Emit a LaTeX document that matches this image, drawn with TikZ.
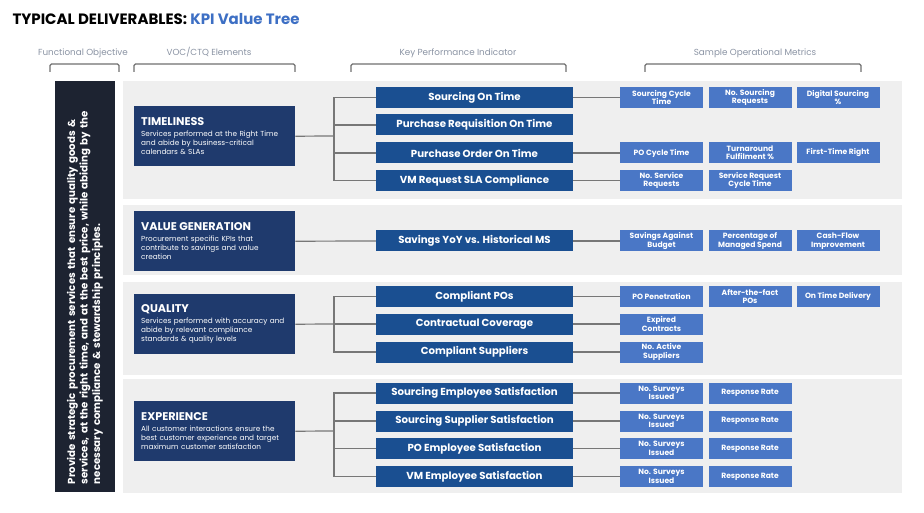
\documentclass[tikz,border=0pt]{standalone}
\usepackage{fontspec}
\setmainfont{Poppins}
\definecolor{titleblue}{HTML}{3D6FC4}
\definecolor{hdrgray}{HTML}{8A93A3}
\definecolor{brkgray}{HTML}{6E6E6E}
\definecolor{objdark}{HTML}{1D2331}
\definecolor{bandgray}{HTML}{EFEFEF}
\definecolor{vocnavy}{HTML}{1F3A6D}
\definecolor{kpiblue}{HTML}{1A4F91}
\definecolor{metblue}{HTML}{4A77C6}
\definecolor{linkgray}{HTML}{777777}
\begin{document}
\begin{tikzpicture}[x=1pt,y=-1pt,
  hdr/.style={anchor=base, text=hdrgray, font=\fontsize{8.8}{10}\selectfont},
  brk/.style={draw=brkgray, line width=1.1pt, rounded corners=1.5pt},
  band/.style={fill=bandgray},
  voc/.style={fill=vocnavy, text=white, anchor=north west, minimum width=161pt, minimum height=60pt, inner sep=7pt, text width=147pt, align=left, font=\fontsize{7.3}{9.2}\selectfont},
  kpi/.style={fill=kpiblue, text=white, minimum width=197pt, minimum height=21pt, inner sep=0pt, font=\fontsize{10.2}{11}\selectfont\bfseries},
  met/.style={fill=metblue, text=white, minimum width=83pt, minimum height=21pt, inner sep=0pt, align=center, font=\fontsize{7.6}{8.4}\selectfont\bfseries},
  link/.style={draw=linkgray, line width=1.2pt}]
\useasboundingbox (0,0) rectangle (924,513);
\node[anchor=base west, font=\fontsize{15}{18}\selectfont\bfseries] (title) at (9,25) {TYPICAL DELIVERABLES: \textcolor{titleblue}{KPI Value Tree}};
\node[hdr] (hfo) at (83,56) {Functional Objective}; \node[hdr] (hvoc) at (209,56) {VOC/CTQ Elements};
\node[hdr] (hkpi) at (458,56) {Key Performance Indicator}; \node[hdr] (hmet) at (755,56) {Sample Operational Metrics};
\draw[brk] (50,72) -- (50,64) -- (119,64) -- (119,72);
\draw[brk] (134,72) -- (134,64) -- (295,64) -- (295,72);
\draw[brk] (351,72) -- (351,64) -- (566,64) -- (566,72);
\draw[brk] (645,72) -- (645,64) -- (861,64) -- (861,72);
\fill[band] (123,81) rectangle (902,199);
\fill[band] (123,205) rectangle (902,275);
\fill[band] (123,282) rectangle (902,375);
\fill[band] (123,379) rectangle (902,493);
\node[fill=objdark, text=white, rotate=90, minimum width=411pt, minimum height=60pt, inner sep=8pt, text width=395pt, align=left, font=\fontsize{10.2}{12.5}\selectfont\bfseries] (obj) at (85,286.5) {Provide strategic procurement services that ensure quality goods \&\\services, at the right time, and at the best price, while abiding by the\\necessary compliance \& stewardship principles.};
\node[voc] (tim) at (134,106) {{\fontsize{11.2}{13}\selectfont\bfseries TIMELINESS}\\[1pt]Services performed at the Right Time\\and abide by business-critical\\calendars \& SLAs};
\node[voc] (val) at (134,211) {{\fontsize{11.2}{13}\selectfont\bfseries VALUE GENERATION}\\[1pt]Procurement specific KPIs that\\contribute to savings and value\\creation};
\node[voc] (qua) at (134,294) {{\fontsize{11.2}{13}\selectfont\bfseries QUALITY}\\[1pt]Services performed with accuracy and\\abide by relevant compliance\\standards \& quality levels};
\node[voc] (exp) at (134,401) {{\fontsize{11.2}{13}\selectfont\bfseries EXPERIENCE}\\[1pt]All customer interactions ensure the\\best customer experience and target\\maximum customer satisfaction};
\coordinate (tsp) at (334,136); \coordinate (qsp) at (334,324); \coordinate (esp) at (334,431);
\node[kpi] (tk1) at (474.5,97.5) {Sourcing On Time};
\node[kpi] (tk2) at (474.5,125) {Purchase Requisition On Time};
\node[kpi] (tk3) at (474.5,153) {Purchase Order On Time};
\node[kpi] (tk4) at (474.5,180.5) {VM Request SLA Compliance};
\node[kpi] (vk1) at (474.5,241) {Savings YoY vs. Historical MS};
\node[kpi] (qk1) at (474.5,296.5) {Compliant POs};
\node[kpi] (qk2) at (474.5,324) {Contractual Coverage};
\node[kpi] (qk3) at (474.5,352) {Compliant Suppliers};
\node[kpi] (ek1) at (474.5,393) {Sourcing Employee Satisfaction};
\node[kpi] (ek2) at (474.5,421) {Sourcing Supplier Satisfaction};
\node[kpi] (ek3) at (474.5,448.5) {PO Employee Satisfaction};
\node[kpi] (ek4) at (474.5,476.5) {VM Employee Satisfaction};
\node[met] (tm11) at (661.5,97.5) {Sourcing Cycle\\Time}; \node[met] (tm12) at (750,97.5) {No. Sourcing\\Requests}; \node[met] (tm13) at (838,97.5) {Digital Sourcing\\\%};
\node[met] (tm31) at (661.5,153) {PO Cycle Time}; \node[met] (tm32) at (750,153) {Turnaround\\Fulfilment \%}; \node[met] (tm33) at (838,153) {First-Time Right};
\node[met] (tm41) at (661.5,180.5) {No. Service\\Requests}; \node[met] (tm42) at (750,180.5) {Service Request\\Cycle Time};
\node[met] (vm11) at (661.5,241) {Savings Against\\Budget}; \node[met] (vm12) at (750,241) {Percentage of\\Managed Spend}; \node[met] (vm13) at (838,241) {Cash-Flow\\Improvement};
\node[met] (qm11) at (661.5,296.5) {PO Penetration}; \node[met] (qm12) at (750,296.5) {After-the-fact\\POs}; \node[met] (qm13) at (838,296.5) {On Time Delivery};
\node[met] (qm21) at (661.5,324) {Expired\\Contracts};
\node[met] (qm31) at (661.5,352) {No. Active\\Suppliers};
\node[met] (em11) at (661.5,393) {No. Surveys\\Issued}; \node[met] (em12) at (750,393) {Response Rate};
\node[met] (em21) at (661.5,421) {No. Surveys\\Issued}; \node[met] (em22) at (750,421) {Response Rate};
\node[met] (em31) at (661.5,448.5) {No. Surveys\\Issued}; \node[met] (em32) at (750,448.5) {Response Rate};
\node[met] (em41) at (661.5,476.5) {No. Surveys\\Issued}; \node[met] (em42) at (750,476.5) {Response Rate};
\draw[link] (tim.east) -- (tsp);
\draw[link] (tsp) |- (tk1.west); \draw[link] (tsp) |- (tk2.west); \draw[link] (tsp) |- (tk3.west); \draw[link] (tsp) |- (tk4.west);
\draw[link] (val.east) -- (vk1.west);
\draw[link] (qua.east) -- (qsp);
\draw[link] (qsp) |- (qk1.west); \draw[link] (qsp) |- (qk2.west); \draw[link] (qsp) |- (qk3.west);
\draw[link] (exp.east) -- (esp);
\draw[link] (esp) |- (ek1.west); \draw[link] (esp) |- (ek2.west); \draw[link] (esp) |- (ek3.west); \draw[link] (esp) |- (ek4.west);
\draw[link] (tk1.east) -- (tm11.west); \draw[link] (tk3.east) -- (tm31.west); \draw[link] (tk4.east) -- (tm41.west);
\draw[link] (vk1.east) -- (vm11.west);
\draw[link] (qk1.east) -- (qm11.west); \draw[link] (qk2.east) -- (qm21.west); \draw[link] (qk3.east) -- (qm31.west);
\draw[link] (ek1.east) -- (em11.west); \draw[link] (ek2.east) -- (em21.west); \draw[link] (ek3.east) -- (em31.west); \draw[link] (ek4.east) -- (em41.west);
\end{tikzpicture}
\end{document}
